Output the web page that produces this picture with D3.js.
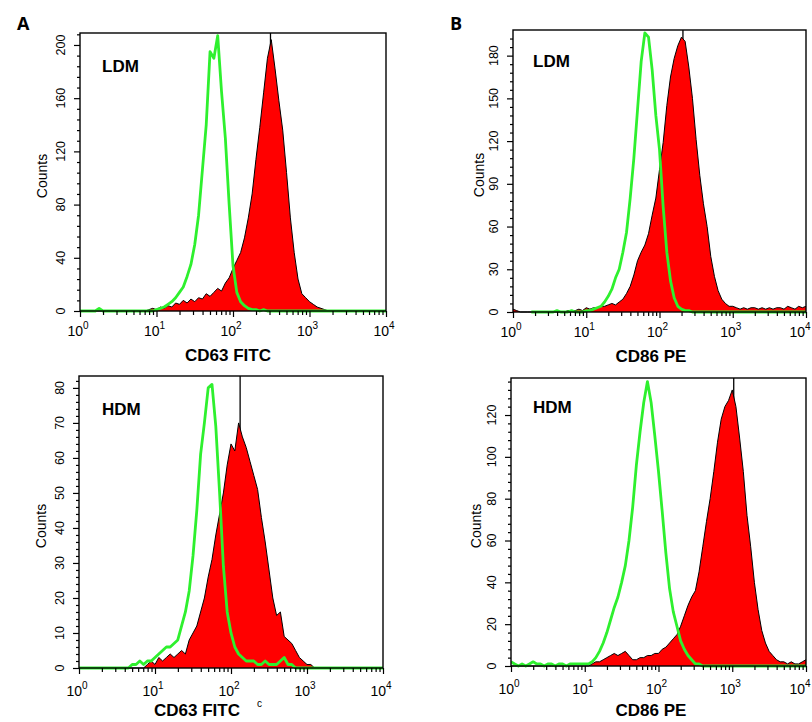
<!DOCTYPE html>
<html>
<head>
<meta charset="utf-8">
<script src="https://cdn.jsdelivr.net/npm/d3@7"></script>
<style>
  body { margin: 0; background: #fff; }
  text { font-family: "Liberation Sans", Arial, sans-serif; }
</style>
</head>
<body>
<svg id="fig" width="812" height="722"></svg>
<script>
// channel positions, in decades (log10 of fluorescence)
const logBins = [
  0.00, 0.05, 0.10, 0.15, 0.20, 0.25, 0.30, 0.35, 0.40, 0.45,
  0.50, 0.55, 0.60, 0.65, 0.70, 0.75, 0.80, 0.85, 0.90, 0.95,
  1.00, 1.05, 1.10, 1.15, 1.20, 1.25, 1.30, 1.35, 1.40, 1.45,
  1.50, 1.55, 1.60, 1.65, 1.70, 1.75, 1.80, 1.85, 1.90, 1.95,
  2.00, 2.05, 2.10, 2.15, 2.20, 2.25, 2.30, 2.35, 2.40, 2.45,
  2.50, 2.55, 2.60, 2.65, 2.70, 2.75, 2.80, 2.85, 2.90, 2.95,
  3.00, 3.05, 3.10, 3.15, 3.20, 3.25, 3.30, 3.35, 3.40, 3.45,
  3.50, 3.55, 3.60, 3.65, 3.70, 3.75, 3.80, 3.85, 3.90, 3.95,
  4.00
];

// A, LDM: CD63 FITC (red) and isotype (green)
const ldmCd63 = [
  0, 0, 0, 0, 0, 0, 0, 0, 0, 0, 0, 0, 0, 0, 0, 0, 0, 0,
  1, 2, 1, 3, 2, 4, 3, 6, 5, 8, 6, 9, 7, 10, 9, 13, 11, 14, 17, 15,
  21, 25, 32, 38, 44, 55, 70, 88, 114, 138, 164, 190, 204, 182, 158, 136, 104, 70, 44, 24,
  13, 10, 7, 5, 3, 2, 1,
  0, 0, 0, 0, 0, 0, 0, 0, 0, 0, 0, 0, 0, 0, 0, 0
];
const ldmCd63Iso = [
  0, 0, 0, 0, 0, 2,
  0, 0, 0, 0, 0, 0, 0, 0, 0, 0, 0, 0, 0, 0,
  1, 2, 3, 5, 7, 10, 14, 18, 26, 35, 50, 72, 106, 140, 195, 190, 207, 165, 130, 80,
  34, 14, 7, 4, 2, 1, 1, 0, 1,
  0, 0, 0, 0, 0, 0, 0, 0, 0, 0, 0, 0, 0, 0, 0, 0,
  0, 0, 0, 0, 0, 0, 0, 0, 0, 0, 0, 0, 0, 0, 0, 0
];

// B, LDM: CD86 PE (red) and isotype (green, not recorded below 0.25)
const ldmCd86 = [
  2, 1, 0, 0, 0, 0, 0, 0, 0, 0, 0, 0, 0, 0, 0, 1, 1, 1, 2, 1,
  3, 2, 3, 3, 4, 4, 5, 6, 5, 7, 9, 13, 18, 26, 36, 42, 47, 55, 68, 80,
  100, 119, 145, 165, 178, 187, 193, 190, 172, 150, 121, 96, 76, 60, 39, 25, 15, 9, 6, 4,
  4,
  3, 2, 3, 2, 3, 3, 2, 3, 2, 3, 2, 3, 3, 2, 4, 3, 2, 4, 3, 4
];
const ldmCd86Iso = [
  null, null, null, null, null,
  0, 0, 0, 0, 0, 0, 0, 1, 0, 0, 0, 1, 0, 0, 0,
  1, 1, 2, 3, 4, 7, 11, 16, 24, 30, 42, 56, 80, 108, 142, 176, 196, 193, 170, 138,
  114, 74, 42, 22, 10, 4, 2, 1, 1,
  0, 0, 0, 0, 0, 0, 0, 0, 0, 0, 0, 0, 0, 0, 0, 0,
  0, 0, 0, 0, 0, 0, 0, 0, 0, 0, 0, 0, 0, 0, 0, 0
];

// A, HDM
const hdmCd63 = [
  0, 0, 0, 0, 0, 0, 0, 0, 0, 0, 0, 0, 0, 0, 0, 0, 0, 0,
  1, 2, 1, 3, 2, 3, 4, 3, 4, 5, 4, 8, 10, 12, 16, 20, 26, 31, 38, 44,
  50, 58, 64, 62, 70, 66, 63, 59, 55, 51, 43, 36, 28, 20, 15, 16, 9, 8, 7, 5,
  3, 2, 1, 1,
  0, 0, 0, 0, 0, 0, 0, 0, 0, 0, 0, 0, 0, 0, 0, 0, 0, 0, 0
];
const hdmCd63Iso = [
  0, 0, 0, 0, 0, 0, 0, 0, 0, 0, 0, 0, 0, 0,
  1, 1, 2, 1, 2, 2, 3, 4, 5, 6, 6, 7, 8, 12, 16, 22, 32, 45, 61, 70,
  80, 81, 69, 50, 29, 16, 10, 6, 4, 3, 2, 2, 2, 1, 1, 2, 1, 1, 1, 2,
  3, 1, 1,
  0, 0, 0, 0, 0, 0, 0, 0, 0, 0, 0, 0, 0, 0, 0, 0, 0, 0, 0, 0, 0, 0, 0, 0
];

// B, HDM
const hdmCd86 = [
  0, 0, 0, 0, 0, 0, 0, 0, 0, 0, 0, 0, 0, 0, 0, 0, 0, 0, 0, 0, 0, 0,
  1, 2, 2, 3, 4, 5, 6, 5, 6, 7, 5, 3, 3, 4, 4, 5, 5, 6, 6, 8,
  9, 11, 13, 15, 19, 24, 29, 33, 36, 45, 57, 69, 80, 93, 107, 118, 124, 127, 132, 124,
  109, 93, 72, 57, 40, 27, 17, 11, 7, 5, 3, 2, 2, 1, 2, 1, 1, 2, 3
];
const hdmCd86Iso = [
  2, 1, 0, 1, 0, 1, 2, 1, 1, 0, 1, 1, 0, 1, 1, 0, 1, 1, 1, 1, 1, 1,
  2, 4, 7, 11, 16, 22, 28, 33, 40, 48, 60, 76, 96, 112, 126, 136, 126, 110, 93, 74,
  54, 37, 26, 19, 12, 8, 5, 3, 1, 1,
  0, 0, 0, 0, 0, 0, 0, 0, 0, 0, 0, 0, 0, 0, 0, 0, 0, 0, 0, 0, 0, 0, 0, 0, 0, 0, 0, 0, 0
];

// single off-scale channel at each red peak
const spikeLog = [2.49, 2.32, 2.12, 3.02];
const spikeCount = [260, 230, 95, 160];

// axis ticks
const xMajor = [1, 10, 100, 1000, 10000];
const xMinor = [2, 3, 4, 5, 6, 7, 8, 9, 20, 30, 40, 50, 60, 70, 80, 90,
  200, 300, 400, 500, 600, 700, 800, 900, 2000, 3000, 4000, 5000, 6000, 7000, 8000, 9000];
const yTicksLdmCd63 = [0, 40, 80, 120, 160, 200];
const yTicksLdmCd86 = [0, 30, 60, 90, 120, 150, 180];
const yTicksHdmCd63 = [0, 10, 20, 30, 40, 50, 60, 70, 80];
const yTicksHdmCd86 = [0, 20, 40, 60, 80, 100, 120];
const yMaxes = [209, 198, 83.4, 137.7];
const yMinorSteps = [8, 6, 2, 4];

const panelTags = ["LDM", "LDM", "HDM", "HDM"];
const xTitles = ["CD63 FITC", "CD86 PE", "CD63 FITC", "CD86 PE"];

const W = 812;
const svg = d3.select("#fig");
svg.append("rect").attr("width", W).attr("height", 722).attr("fill", "#fff");

// layout of the four boxes (pixels)
const panels = [
  { red: ldmCd63, iso: ldmCd63Iso, ticks: yTicksLdmCd63, left: 80, right: 386, top: 33, bottom: 311,
    tickLab: 25, titleX: 228, titleY: 361, tagX: 102, tagY: 72, countsX: 47 },
  { red: ldmCd86, iso: ldmCd86Iso, ticks: yTicksLdmCd86, left: 513, right: 806, top: 30, bottom: 312,
    tickLab: 25, titleX: 651, titleY: 362, tagX: 533, tagY: 67, countsX: 484 },
  { red: hdmCd63, iso: hdmCd63Iso, ticks: yTicksHdmCd63, left: 79, right: 383, top: 376, bottom: 668,
    tickLab: 28, titleX: 197, titleY: 716, tagX: 102, tagY: 415, countsX: 46, note: "c" },
  { red: hdmCd86, iso: hdmCd86Iso, ticks: yTicksHdmCd86, left: 511, right: 806, top: 378, bottom: 666,
    tickLab: 28, titleX: 651, titleY: 716, tagX: 533, tagY: 413, countsX: 481 }
];

panels.forEach((p, k) => {
  const x = d3.scaleLog().domain([1, 10000]).range([p.left, p.right]);
  const y = d3.scaleLinear().domain([0, yMaxes[k]]).range([p.bottom, p.top]);
  const g = svg.append("g");

  const clipId = "clip" + k;
  svg.append("clipPath").attr("id", clipId)
    .append("rect")
    .attr("x", p.left).attr("y", p.top)
    .attr("width", p.right - p.left).attr("height", p.bottom - p.top + 2);

  const plot = g.append("g").attr("clip-path", `url(#${clipId})`);

  const redPts = logBins.map((L, i) => ({ v: Math.pow(10, L), c: p.red[i] }));
  const isoPts = logBins.map((L, i) => ({ v: Math.pow(10, L), c: p.iso[i] }));

  // the off-scale channel, behind the red fill so only its top shows
  plot.append("line")
    .attr("x1", x(Math.pow(10, spikeLog[k]))).attr("x2", x(Math.pow(10, spikeLog[k])))
    .attr("y1", y(0)).attr("y2", y(spikeCount[k]))
    .attr("stroke", "#000").attr("stroke-width", 1.3);

  // red filled histogram with black outline
  plot.append("path")
    .datum(redPts)
    .attr("fill", "#ff0000")
    .attr("d", d3.area().x(d => x(d.v)).y0(y(0)).y1(d => y(d.c)));
  plot.append("path")
    .datum(redPts)
    .attr("fill", "none")
    .attr("stroke", "#000")
    .attr("stroke-width", 1)
    .attr("d", d3.line().x(d => x(d.v)).y(d => y(d.c)));

  // isotype control, open green line
  plot.append("path")
    .datum(isoPts)
    .attr("fill", "none")
    .attr("stroke", "#2ef02e")
    .attr("stroke-width", 2.8)
    .attr("stroke-linejoin", "round")
    .attr("d", d3.line().defined(d => d.c != null).x(d => x(d.v)).y(d => y(d.c)));

  // frame
  g.append("rect")
    .attr("x", p.left).attr("y", p.top)
    .attr("width", p.right - p.left).attr("height", p.bottom - p.top)
    .attr("fill", "none").attr("stroke", "#000").attr("stroke-width", 1.4);

  // y axis
  const yMinor = d3.range(0, yMaxes[k], yMinorSteps[k]).filter(v => !p.ticks.includes(v));
  const yAxisMinor = g.append("g").attr("transform", `translate(${p.left},0)`)
    .call(d3.axisLeft(y).tickValues(yMinor).tickSize(3).tickSizeOuter(0).tickFormat(""));
  const yAxisMajor = g.append("g").attr("transform", `translate(${p.left},0)`)
    .call(d3.axisLeft(y).tickValues(p.ticks).tickSize(6).tickSizeOuter(0).tickFormat(""));
  [yAxisMinor, yAxisMajor].forEach(a => {
    a.select(".domain").remove();
    a.selectAll("line").attr("stroke", "#000").attr("stroke-width", 1.2);
  });

  p.ticks.forEach(v => {
    g.append("text")
      .attr("transform", `translate(${p.left - 15},${y(v)}) rotate(-90)`)
      .attr("text-anchor", "middle")
      .attr("font-size", 12.5)
      .text(v);
  });

  g.append("text")
    .attr("transform", `translate(${p.countsX},${(p.top + p.bottom) / 2 + 4}) rotate(-90)`)
    .attr("text-anchor", "middle")
    .attr("font-size", 14)
    .text("Counts");

  // x axis, log decades
  const xAxisMinor = g.append("g").attr("transform", `translate(0,${p.bottom})`)
    .call(d3.axisBottom(x).tickValues(xMinor).tickSize(4).tickSizeOuter(0).tickFormat(""));
  const xAxisMajor = g.append("g").attr("transform", `translate(0,${p.bottom})`)
    .call(d3.axisBottom(x).tickValues(xMajor).tickSize(6).tickSizeOuter(0).tickFormat(""));
  [xAxisMinor, xAxisMajor].forEach(a => {
    a.select(".domain").remove();
    a.selectAll("line").attr("stroke", "#000").attr("stroke-width", 1.2);
  });

  xMajor.forEach(v => {
    const t = g.append("text")
      .attr("x", x(v) - 2)
      .attr("y", p.bottom + p.tickLab)
      .attr("text-anchor", "middle")
      .attr("font-size", 14);
    t.append("tspan").text("10");
    t.append("tspan").attr("font-size", 10).attr("dy", -7).text(Math.round(Math.log10(v)));
    // keep the last decade label inside the picture
    const bb = t.node().getBBox();
    if (bb.x + bb.width > W - 1) t.attr("x", x(v) - 2 - (bb.x + bb.width - (W - 1)));
  });

  g.append("text")
    .attr("x", p.titleX).attr("y", p.titleY)
    .attr("text-anchor", "middle")
    .attr("font-size", 17).attr("font-weight", "bold")
    .text(xTitles[k]);

  if (p.note) {
    g.append("text")
      .attr("x", p.titleX + 60).attr("y", p.titleY - 9)
      .attr("font-size", 10)
      .text(p.note);
  }

  g.append("text")
    .attr("x", p.tagX).attr("y", p.tagY)
    .attr("font-size", 17).attr("font-weight", "bold")
    .text(panelTags[k]);
});

// panel letters
svg.append("text").attr("x", 17).attr("y", 30)
  .attr("font-size", 18).attr("font-weight", "bold")
  .style("font-family", "'Open Sans', sans-serif")
  .text("A");
svg.append("text").attr("x", 450).attr("y", 30)
  .attr("font-size", 18).attr("font-weight", "bold")
  .style("font-family", "'Open Sans', sans-serif")
  .text("B");
</script>
</body>
</html>
